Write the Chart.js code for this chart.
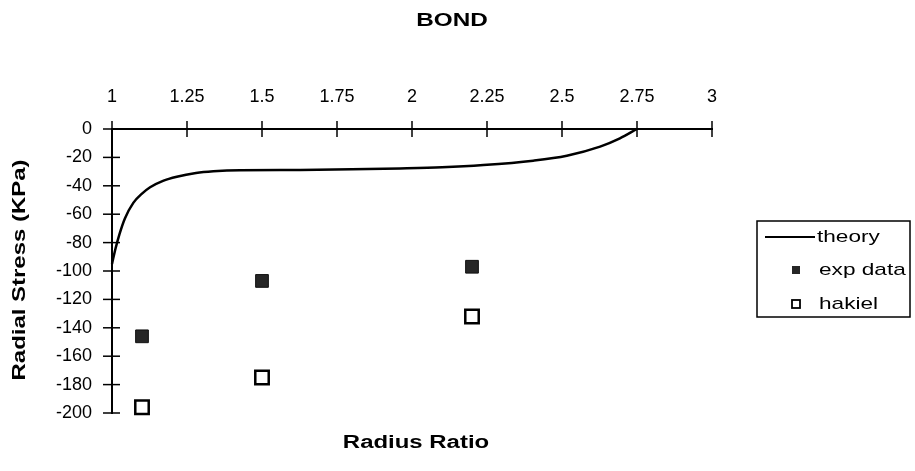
<!DOCTYPE html>
<html>
<head>
<meta charset="utf-8">
<title>BOND</title>
<script src="https://cdn.jsdelivr.net/npm/chart.js@4.4.1/dist/chart.umd.min.js"></script>
<style>
  html, body { margin: 0; padding: 0; background: #fff; }
</style>
</head>
<body>
<canvas id="chart" width="915" height="471"></canvas>
<script>
// theory curve
const theoryX = [1.0, 1.012, 1.025, 1.043, 1.071, 1.1, 1.127, 1.17, 1.216, 1.28, 1.338, 1.427, 1.627, 1.8, 1.96, 2.1, 2.238, 2.404, 2.516, 2.627, 2.693, 2.75];
const theoryY = [-95, -84, -74, -63, -52, -45.5, -41, -36.5, -33.6, -31, -29.8, -29, -28.8, -28.4, -27.8, -27, -25.4, -22.3, -18.8, -12.4, -6.6, 0];

// measured points
const expX = [1.1, 1.5, 2.2];
const expY = [-146, -107, -97];
const hakielX = [1.1, 1.5, 2.2];
const hakielY = [-196, -175, -132];

const xTickLabels = ['1', '1.25', '1.5', '1.75', '2', '2.25', '2.5', '2.75', '3'];
const yTickLabels = ['0', '-20', '-40', '-60', '-80', '-100', '-120', '-140', '-160', '-180', '-200'];

const FONT = '"Liberation Sans", Arial, sans-serif';

function toPoints(xs, ys) {
  return xs.map((x, i) => ({ x, y: ys[i] }));
}

// the scan has wide lettering, so stretch text along its run
function wideText(ctx, text, x, y, rot, sx) {
  ctx.save();
  ctx.translate(x, y);
  ctx.rotate(rot);
  ctx.scale(sx, 1);
  ctx.fillText(text, 0, 0);
  ctx.restore();
}

const decor = {
  id: 'decor',
  afterDraw(chart) {
    const { ctx, chartArea, scales } = chart;
    const xs = scales.x, ys = scales.y;
    ctx.save();
    ctx.strokeStyle = '#000';
    ctx.lineWidth = 1.5;

    // ticks crossing the axis lines
    xs.ticks.forEach(t => {
      const px = xs.getPixelForValue(t.value);
      ctx.beginPath();
      ctx.moveTo(px, chartArea.top - 8);
      ctx.lineTo(px, chartArea.top + 8);
      ctx.stroke();
    });
    ys.ticks.forEach(t => {
      const py = ys.getPixelForValue(t.value);
      ctx.beginPath();
      ctx.moveTo(chartArea.left - 9, py);
      ctx.lineTo(chartArea.left + 8, py);
      ctx.stroke();
    });

    // titles
    ctx.fillStyle = '#000';
    ctx.textAlign = 'center';
    ctx.textBaseline = 'middle';
    ctx.font = 'bold 18px ' + FONT;
    wideText(ctx, 'BOND', 452, 21, 0, 1.35);
    wideText(ctx, 'Radius Ratio', (chartArea.left + chartArea.right) / 2 + 4, 443, 0, 1.33);
    wideText(ctx, 'Radial Stress (KPa)', 20, 270, -Math.PI / 2, 1.33);

    // legend box
    const lx = 757, ly = 221, lw = 153, lh = 96;
    ctx.lineWidth = 1.5;
    ctx.strokeRect(lx, ly, lw, lh);
    ctx.font = '17px ' + FONT;
    ctx.textAlign = 'left';
    const ds = chart.data.datasets;

    ctx.strokeStyle = ds[0].borderColor;
    ctx.lineWidth = 2;
    ctx.beginPath();
    ctx.moveTo(765, 237);
    ctx.lineTo(815, 237);
    ctx.stroke();
    wideText(ctx, ds[0].label, 817, 237, 0, 1.33);

    ctx.fillStyle = ds[1].backgroundColor;
    ctx.fillRect(792, 266, 8, 8);
    ctx.fillStyle = '#000';
    wideText(ctx, ds[1].label, 819, 270, 0, 1.33);

    ctx.strokeStyle = '#000';
    ctx.lineWidth = 1.8;
    ctx.strokeRect(792, 300, 8, 8);
    wideText(ctx, ds[2].label, 819, 304, 0, 1.33);

    ctx.restore();
  }
};

new Chart(document.getElementById('chart'), {
  type: 'scatter',
  data: {
    datasets: [
      {
        label: 'theory',
        data: toPoints(theoryX, theoryY),
        showLine: true,
        borderColor: '#000',
        borderWidth: 2.5,
        pointRadius: 0,
        cubicInterpolationMode: 'monotone',
        clip: 6
      },
      {
        label: 'exp data',
        data: toPoints(expX, expY),
        pointStyle: 'rect',
        pointRadius: 9,
        backgroundColor: '#262626',
        borderColor: '#111',
        borderWidth: 1,
        clip: false
      },
      {
        label: 'hakiel',
        data: toPoints(hakielX, hakielY),
        pointStyle: 'rect',
        pointRadius: 9.5,
        backgroundColor: '#fff',
        borderColor: '#000',
        borderWidth: 2.5,
        clip: false
      }
    ]
  },
  options: {
    responsive: false,
    animation: false,
    layout: { padding: { top: 69, left: 0, right: 203, bottom: 58 } },
    plugins: {
      legend: { display: false },
      title: { display: false },
      tooltip: { enabled: false }
    },
    scales: {
      x: {
        type: 'linear',
        position: 'top',
        min: 1,
        max: 3,
        afterFit: s => { s.height = 60; },
        afterBuildTicks: s => { s.ticks = xTickLabels.map(v => ({ value: parseFloat(v) })); },
        ticks: {
          callback: (v, i) => xTickLabels[i],
          color: '#000',
          font: { family: FONT, size: 18 },
          padding: 21,
          maxRotation: 0,
          autoSkip: false
        },
        grid: { display: false, drawTicks: false },
        border: { display: true, color: '#000', width: 2 }
      },
      y: {
        type: 'linear',
        min: -200,
        max: 0,
        afterFit: s => { s.width = 112; },
        afterBuildTicks: s => { s.ticks = yTickLabels.map(v => ({ value: parseFloat(v) })); },
        ticks: {
          callback: (v, i) => yTickLabels[i],
          color: '#000',
          font: { family: FONT, size: 18 },
          padding: 20,
          autoSkip: false
        },
        grid: { display: false, drawTicks: false },
        border: { display: true, color: '#000', width: 2 }
      }
    }
  },
  plugins: [decor]
});
</script>
</body>
</html>
